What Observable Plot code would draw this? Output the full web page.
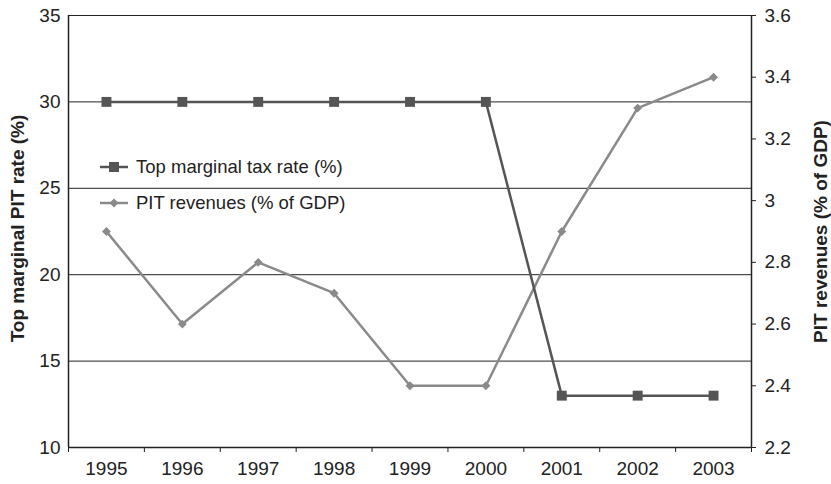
<!DOCTYPE html>
<html><head><meta charset="utf-8">
<script src="https://cdn.jsdelivr.net/npm/d3@7"></script>
<script src="https://cdn.jsdelivr.net/npm/@observablehq/plot@0.6"></script>
<style>
body{margin:0;background:#fff;font-family:"Liberation Sans",Arial,sans-serif;}
#wrap{position:relative;width:831px;height:484px;}
.legend{position:absolute;left:100px;top:149px;font-size:18.5px;color:#222;line-height:36px;}
.legend div{display:flex;align-items:center;height:36px;}
.legend svg{margin-right:8px;}
</style></head><body><div id="wrap"></div>
<script>
const years = [1995, 1996, 1997, 1998, 1999, 2000, 2001, 2002, 2003];
const topRate = [30, 30, 30, 30, 30, 30, 13, 13, 13];
const pitRevenue = [2.9, 2.6, 2.8, 2.7, 2.4, 2.4, 2.9, 3.3, 3.4];
const leftTicks = [10, 15, 20, 25, 30, 35];
const rightTicks = [2.2, 2.4, 2.6, 2.8, 3.0, 3.2, 3.4, 3.6];
const rightTickLabels = ["2.2", "2.4", "2.6", "2.8", "3", "3.2", "3.4", "3.6"];
const leftDomain = [10, 35];
const rightDomain = [2.2, 3.6];
const seriesNames = ["Top marginal tax rate (%)", "PIT revenues (% of GDP)"];
const leftTitle = "Top marginal PIT rate (%)";
const rightTitle = "PIT revenues (% of GDP)";
const rateColor = "#555555";
const pitColor = "#8a8a8a";

const toLeft = v => leftDomain[0] + (v - rightDomain[0]) * (leftDomain[1] - leftDomain[0]) / (rightDomain[1] - rightDomain[0]);
const rateData = years.map((y, i) => ({year: y, value: topRate[i]}));
const pitData = years.map((y, i) => ({year: y, value: toLeft(pitRevenue[i])}));
const xDomain = [years[0] - 0.5, years[years.length - 1] + 0.5];
const boundaries = d3.range(years.length + 1).map(i => years[0] - 0.5 + i);
const rightPos = rightTicks.map(toLeft);
const FS = 19;

const chart = Plot.plot({
  width: 831, height: 484,
  marginLeft: 68, marginRight: 80, marginTop: 15, marginBottom: 37,
  style: {fontFamily: '"Liberation Sans", Arial, sans-serif', fontSize: "19px", color: "#222", background: "#fff"},
  x: {domain: xDomain},
  y: {domain: leftDomain},
  marks: [
    Plot.ruleY(leftTicks.slice(1), {stroke: "#222", strokeWidth: 1}),
    Plot.ruleY([leftDomain[0]], {stroke: "#222", strokeWidth: 1.5}),
    Plot.ruleX(xDomain, {stroke: "#222", strokeWidth: 1.5}),
    Plot.axisY(leftTicks, {anchor: "left", tickSize: 0, tickPadding: 8, label: null, fontSize: FS}),
    Plot.axisY(rightPos, {anchor: "right", tickSize: 4, tickPadding: 9, label: null, fontSize: FS,
      tickFormat: d => rightTickLabels[rightPos.findIndex(t => Math.abs(t - d) < 1e-9)]}),
    Plot.axisX(years, {tickSize: 0, tickPadding: 14, tickFormat: d => String(d), label: null, fontSize: FS}),
    Plot.axisX(boundaries, {tickSize: 5, tickFormat: () => "", label: null}),
    Plot.line(pitData, {x: "year", y: "value", stroke: pitColor, strokeWidth: 2.5}),
    Plot.dot(pitData, {x: "year", y: "value", symbol: "diamond2", r: 4, fill: pitColor}),
    Plot.line(rateData, {x: "year", y: "value", stroke: rateColor, strokeWidth: 2.5}),
    Plot.dot(rateData, {x: "year", y: "value", symbol: "square", r: 5.6, fill: rateColor}),
    Plot.text([leftTitle], {text: d => d, frameAnchor: "left", textAnchor: "middle", rotate: -90, dx: -51, dy: -3, fontWeight: "bold", fontSize: FS, fill: "#222"}),
    Plot.text([rightTitle], {text: d => d, frameAnchor: "right", textAnchor: "middle", rotate: -90, dx: 69, fontWeight: "bold", fontSize: FS, fill: "#222"})
  ]
});
const wrap = document.getElementById("wrap");
wrap.appendChild(chart);

const legend = document.createElement("div");
legend.className = "legend";
const entries = [
  {name: seriesNames[0], color: rateColor, shape: "square"},
  {name: seriesNames[1], color: pitColor, shape: "diamond"}
];
for (const e of entries) {
  const row = document.createElement("div");
  const marker = e.shape === "square"
    ? `<rect x="9" y="5" width="10" height="10" fill="${e.color}"/>`
    : `<path d="M14,5.5L18.5,10L14,14.5L9.5,10Z" fill="${e.color}"/>`;
  row.innerHTML = `<svg width="28" height="20"><line x1="0" x2="28" y1="10" y2="10" stroke="${e.color}" stroke-width="2.5"/>${marker}</svg><span>${e.name}</span>`;
  legend.appendChild(row);
}
wrap.appendChild(legend);
</script>
</body></html>
